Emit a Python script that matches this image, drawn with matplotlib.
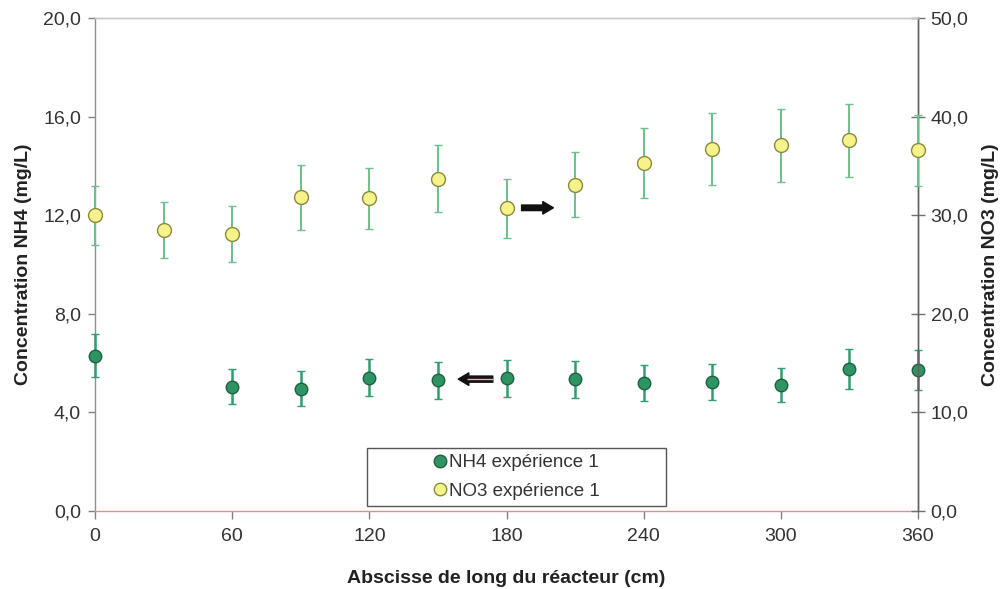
"""
NH4 / NO3 concentration profile along the reactor, with error bars.
Left axis NH4 (mg/L), right axis NO3 (mg/L).
"""

import matplotlib
matplotlib.use("Agg")
import matplotlib.pyplot as plt
from matplotlib.lines import Line2D
from matplotlib.patches import Rectangle
from matplotlib.ticker import FuncFormatter

plt.rcParams["font.family"] = ["Liberation Sans", "DejaVu Sans"]

# NH4 (left axis) - no sample at 30 cm
nh4_x = [0, 60, 90, 120, 150, 180, 210, 240, 270, 300, 330, 360]
nh4_y = [6.3, 5.05, 4.95, 5.4, 5.3, 5.38, 5.34, 5.2, 5.22, 5.1, 5.75, 5.72]
nh4_err = [0.87, 0.7, 0.71, 0.75, 0.75, 0.75, 0.75, 0.74, 0.73, 0.69, 0.81, 0.8]

# NO3 (right axis)
no3_x = [0, 30, 60, 90, 120, 150, 180, 210, 240, 270, 300, 330, 360]
no3_y = [30.0, 28.5, 28.1, 31.8, 31.7, 33.7, 30.7, 33.1, 35.3, 36.7, 37.1, 37.6, 36.6]
no3_err = [3.0, 2.8, 2.8, 3.3, 3.1, 3.4, 3.0, 3.3, 3.55, 3.65, 3.7, 3.7, 3.6]

x_ticks = [0, 60, 120, 180, 240, 300, 360]
left_ticks = [0, 4, 8, 12, 16, 20]
right_ticks = [0, 10, 20, 30, 40, 50]

labels = ["NH4 expérience 1", "NO3 expérience 1"]

comma = FuncFormatter(lambda v, pos: f"{v:.1f}".replace(".", ","))
int_fmt = FuncFormatter(lambda v, pos: f"{v:.0f}")

fig = plt.figure(figsize=(10.01, 5.89), dpi=100)
ax = fig.add_axes([95 / 1001, 1 - 511 / 589, 823 / 1001, 493 / 589])
ax2 = ax.twinx()

ax.set_xlim(0, 360)
ax.set_ylim(0, 20)
ax2.set_ylim(0, 50)

# NO3 series
eb2 = ax2.errorbar(no3_x, no3_y, yerr=no3_err, fmt="o", ms=10,
                   mfc="#f7f38c", mec="#8a8a3a", mew=1.0,
                   ecolor="#6cc08a", elinewidth=1.4, capsize=3.2,
                   capthick=1.2, zorder=3)
# NH4 series
eb1 = ax.errorbar(nh4_x, nh4_y, yerr=nh4_err, fmt="o", ms=9,
                  mfc="#2e9463", mec="#1f6040", mew=1.0,
                  ecolor="#2f9e6e", elinewidth=1.8, capsize=3.2,
                  capthick=1.8, zorder=3)
for eb in (eb1, eb2):
    for art in eb.lines[0:1] + tuple(eb.lines[1]) + tuple(eb.lines[2]):
        art.set_clip_on(False)

# spines
ax.spines["left"].set_color("#8a9090")
ax.spines["bottom"].set_color("#d89090")
ax.spines["top"].set_color("#c8c8c8")
ax.spines["right"].set_color("#606060")
ax2.spines["left"].set_visible(False)
ax2.spines["bottom"].set_visible(False)
ax2.spines["top"].set_color("#c8c8c8")
ax2.spines["right"].set_color("#606060")
for s in ax.spines.values():
    s.set_linewidth(1.0)
for s in ax2.spines.values():
    s.set_linewidth(1.0)

# ticks
ax.set_xticks(x_ticks)
ax.xaxis.set_major_formatter(int_fmt)
ax.set_yticks(left_ticks)
ax.yaxis.set_major_formatter(comma)
ax2.set_yticks(right_ticks)
ax2.yaxis.set_major_formatter(comma)

ax.tick_params(axis="x", direction="out", length=6, width=1, color="#808080",
               labelsize=14, labelcolor="#333333", pad=6)
ax.tick_params(axis="y", direction="out", length=5, width=1, color="#808080",
               labelsize=14, labelcolor="#333333", pad=5)
ax2.tick_params(axis="y", direction="inout", length=10, width=1, color="#707070",
                labelsize=14, labelcolor="#333333", pad=4)

# axis labels
ax.set_xlabel("Abscisse de long du réacteur (cm)", fontsize=14, fontweight="bold",
              color="#222222")
ax.xaxis.set_label_coords(0.5, -0.12)
ax.set_ylabel("Concentration NH4 (mg/L)", fontsize=14, fontweight="bold",
              color="#222222")
ax.yaxis.set_label_coords(-0.077, 0.5)
ax2.set_ylabel("Concentration NO3 (mg/L)", fontsize=14, fontweight="bold",
               color="#222222")
ax2.yaxis.set_label_coords(1.078, 0.5)

# arrows pointing to the relevant axis
no3_arrow = ((186.6, 12.3), (200.5, 12.3))
nh4_arrow = ((174.0, 5.35), (158.9, 5.35))
ax.annotate("", xy=no3_arrow[1], xytext=no3_arrow[0],
            arrowprops=dict(arrowstyle="simple,head_length=0.38,head_width=0.45,tail_width=0.2",
                            mutation_scale=20, fc="#111111", ec="#111111",
                            shrinkA=0, shrinkB=0), zorder=4)
ax.annotate("", xy=nh4_arrow[1], xytext=nh4_arrow[0],
            arrowprops=dict(arrowstyle="simple,head_length=0.38,head_width=0.45,tail_width=0.22",
                            mutation_scale=20, fc="#111111", ec="#111111",
                            shrinkA=0, shrinkB=0), zorder=4)
ax.plot([nh4_arrow[0][0], nh4_arrow[1][0] + 4], [nh4_arrow[0][1]] * 2,
        color="#e0b0b0", lw=1.0, solid_capstyle="butt", zorder=5)

# legend in a wide box
ax2.add_patch(Rectangle((0.330, 0.010), 0.364, 0.118, transform=ax2.transAxes,
                        fc="white", ec="#555555", lw=1.0, zorder=6))
handles = [
    Line2D([], [], ls="none", marker="o", ms=9, mfc="#2e9463", mec="#1f6040"),
    Line2D([], [], ls="none", marker="o", ms=9, mfc="#f7f38c", mec="#8a8a3a"),
]
leg = ax2.legend(handles, labels, loc="center", bbox_to_anchor=(0.513, 0.069),
                 frameon=False, fontsize=13.5, handlelength=0.6,
                 handletextpad=0.2, labelspacing=0.6, borderpad=0)
leg.set_zorder(7)
for t in leg.get_texts():
    t.set_color("#333333")

fig.savefig("out.png", dpi=100)
